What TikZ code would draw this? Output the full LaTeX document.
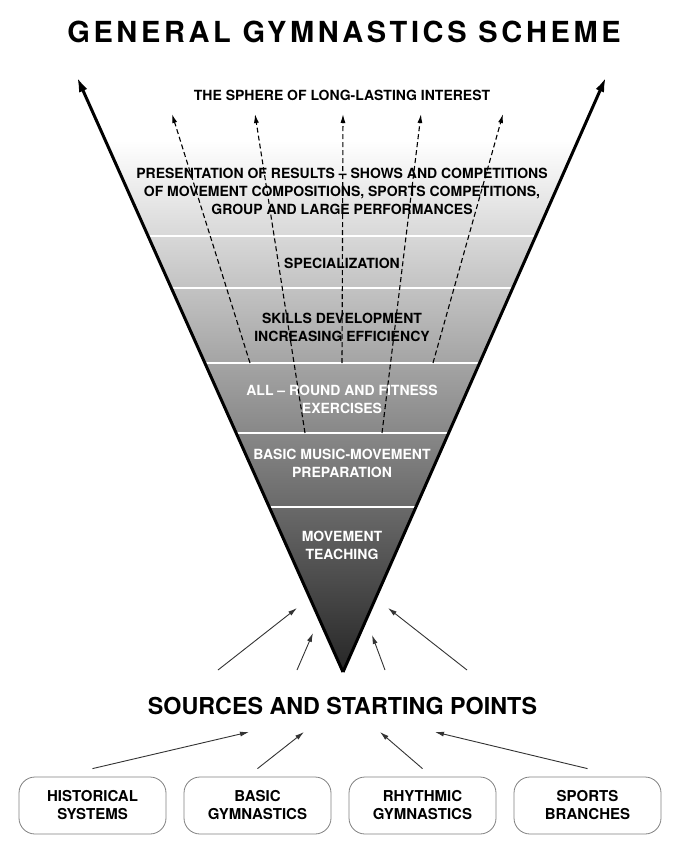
\documentclass[tikz,border=0pt]{standalone}
\usepackage{fontspec}
\setmainfont{TeX Gyre Heros}
\usetikzlibrary{arrows.meta,calc}
\tikzset{
  band/.style={font=\fontsize{14}{18}\selectfont\bfseries, align=center, inner sep=0pt},
  bandlight/.style={band, text=white},
  source/.style={draw=black!50, line width=0.8pt, rounded corners=16pt, minimum width=147pt,
    minimum height=57pt, align=center, font=\fontsize{15}{18}\selectfont\bfseries, inner sep=0pt},
  edgearrow/.style={line width=3pt, -{Latex[length=15pt,width=9pt]}},
  flowarrow/.style={line width=1.1pt, dash pattern=on 5pt off 3pt, -{Latex[length=9pt,width=5pt]}},
  feedarrow/.style={line width=0.9pt, black!80, -{Latex[length=9pt,width=5pt]}},
  bandline/.style={white, line width=1.5pt},
}
\begin{document}
\begin{tikzpicture}[x=1pt,y=-1pt]
  \useasboundingbox (0,0) rectangle (677,855);
  \coordinate (apex) at (343,672);
  \coordinate (tipL) at (77,77);
  \coordinate (tipR) at (606,77);
  % funnel
  \begin{scope}
    \clip (apex) -- (tipL) -- (tipR) -- cycle;
    \shade[top color=white, bottom color=black!85] (0,140) rectangle (677,672);
    \foreach \y in {236,288,363,433,507}
      \draw[bandline] (0,\y) -- (677,\y);
  \end{scope}
  \draw[edgearrow] (apex) -- (tipL);
  \draw[edgearrow] (apex) -- (tipR);
  % dashed arrows
  \foreach \i/\xa/\ya/\xb in {1/250/363/172, 2/305/433/255, 3/342/363/343, 4/382/433/421, 5/433/363/503}{
    \coordinate (fs\i) at (\xa,\ya);
    \coordinate (fe\i) at (\xb,114);
    \draw[flowarrow] (fs\i) -- (fe\i);
  }
  % texts
  \node[font=\fontsize{29}{32}\selectfont\bfseries\addfontfeature{LetterSpace=12.5}] (title) at (344,32) {GENERAL GYMNASTICS SCHEME};
  \node[band] (sphere) at (342,95) {THE SPHERE OF LONG-LASTING INTEREST};
  \node[band] (present) at (342,191) {PRESENTATION OF RESULTS -- SHOWS AND COMPETITIONS\\OF MOVEMENT COMPOSITIONS, SPORTS COMPETITIONS,\\GROUP AND LARGE PERFORMANCES};
  \node[band] (special) at (342,263) {SPECIALIZATION};
  \node[band] (skills) at (342,327) {SKILLS DEVELOPMENT\\INCREASING EFFICIENCY};
  \node[bandlight] (allround) at (342,399.5) {ALL -- ROUND AND FITNESS\\EXERCISES};
  \node[bandlight] (music) at (342,463.5) {BASIC MUSIC-MOVEMENT\\PREPARATION};
  \node[bandlight] (teach) at (342,545.5) {MOVEMENT\\TEACHING};
  \node[font=\fontsize{23.3}{26}\selectfont\bfseries] (sources) at (342.5,706) {SOURCES AND STARTING POINTS};
  % arrows into the apex
  \foreach \i/\xa/\xb/\yb in {1/218/297/608, 2/297/313/633, 3/385/372/635, 4/467/388/608}{
    \coordinate (p\i) at (\xa,670);
    \coordinate (q\i) at (\xb,\yb);
    \draw[feedarrow] (p\i) -- (q\i);
  }
  % sources
  \node[source] (hist) at (92.5,805.5) {HISTORICAL\\SYSTEMS};
  \node[source] (basic) at (257.5,805.5) {BASIC\\GYMNASTICS};
  \node[source] (rhythm) at (422.5,805.5) {RHYTHMIC\\GYMNASTICS};
  \node[source] (sports) at (587.5,805.5) {SPORTS\\BRANCHES};
  \coordinate (s1) at (249,732);
  \coordinate (s2) at (304,732);
  \coordinate (s3) at (380,732);
  \coordinate (s4) at (435,732);
  \draw[feedarrow] ([yshift=8pt]hist.north) -- (s1);
  \draw[feedarrow] ([yshift=8pt]basic.north) -- (s2);
  \draw[feedarrow] ([yshift=8pt]rhythm.north) -- (s3);
  \draw[feedarrow] ([yshift=8pt]sports.north) -- (s4);
\end{tikzpicture}
\end{document}
